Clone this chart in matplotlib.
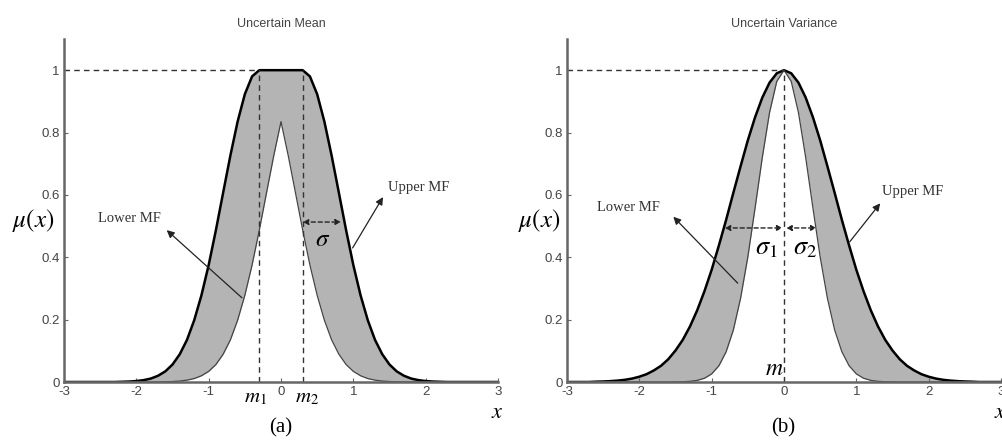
import numpy as np
from matplotlib import pyplot as plt

plt.rcParams['mathtext.fontset'] = 'stix'
plt.rcParams['font.family'] = ['Liberation Sans', 'DejaVu Sans']

# membership values, right half (x = 0 .. 3 step 0.1), curves are symmetric
x_half = np.round(np.arange(0, 3.01, 0.1), 1)

mean_upper_half = [1, 1, 1, 1, 0.980, 0.923, 0.835, 0.726, 0.607, 0.487, 0.375,
                   0.278, 0.198, 0.135, 0.089, 0.056, 0.034, 0.020, 0.011, 0.006, 0.003,
                   0.0015, 0.0007, 0, 0, 0, 0, 0, 0, 0, 0]
mean_lower_half = [0.835, 0.726, 0.607, 0.487, 0.375, 0.278, 0.198, 0.135, 0.089, 0.056, 0.034,
                   0.020, 0.011, 0.006, 0.003, 0.0015, 0.0007, 0, 0, 0, 0,
                   0, 0, 0, 0, 0, 0, 0, 0, 0, 0]
var_upper_half = [1, 0.990, 0.960, 0.912, 0.849, 0.775, 0.692, 0.607, 0.520, 0.438, 0.360,
                  0.291, 0.230, 0.178, 0.135, 0.101, 0.073, 0.052, 0.037, 0.025, 0.017,
                  0.011, 0.007, 0.0045, 0.0028, 0.0017, 0.001, 0, 0, 0, 0]
var_lower_half = [1, 0.964, 0.864, 0.720, 0.558, 0.401, 0.269, 0.167, 0.097, 0.052, 0.026,
                  0.012, 0.0052, 0.0021, 0.0008, 0.0003, 0, 0, 0, 0, 0,
                  0, 0, 0, 0, 0, 0, 0, 0, 0, 0]

m1, m2 = -0.3, 0.3
m = 0.0

x_ticks = [-3, -2, -1, 0, 1, 2, 3]
y_ticks = [0, 0.2, 0.4, 0.6, 0.8, 1]
y_ticklabels = ['0', '0.2', '0.4', '0.6', '0.8', '1']


def mirror(half):
    half = np.asarray(half, dtype=float)
    return np.concatenate([half[:0:-1], half])


x = np.concatenate([-x_half[:0:-1], x_half])

fill_col = '#b4b4b4'
dash_col = '#333333'
axis_col = '#666666'
txt_col = '#444444'


def setup_axes(ax, title):
    ax.set_xlim(-3, 3)
    ax.set_ylim(0, 1.1)
    for s in ['top', 'right']:
        ax.spines[s].set_visible(False)
    for s in ['left', 'bottom']:
        ax.spines[s].set_color(axis_col)
        ax.spines[s].set_linewidth(1.8)
    ax.set_xticks(x_ticks)
    ax.set_xticklabels([str(t) for t in x_ticks])
    ax.set_yticks(y_ticks)
    ax.set_yticklabels(y_ticklabels)
    ax.tick_params(direction='in', length=3, width=0.8, color=axis_col,
                   labelsize=9.5, labelcolor=txt_col, pad=3)
    ax.text(0.5, 1.044, title, transform=ax.transAxes, ha='center', va='center',
            fontsize=9, color=txt_col)


def mf_arrow(ax, head, tail):
    ax.annotate('', xy=head, xytext=tail,
                arrowprops=dict(arrowstyle='-|>', color='#222222', lw=0.9,
                                mutation_scale=11, shrinkA=0, shrinkB=0))


def sigma_arrow(ax, x0, x1, y):
    ax.annotate('', xy=(x1, y), xytext=(x0, y),
                arrowprops=dict(arrowstyle='<|-|>', color='#222222', lw=1.0, ls=(0, (3, 2)),
                                mutation_scale=8, shrinkA=0, shrinkB=0))


fig = plt.figure(figsize=(10.02, 4.4), dpi=100)
ax1 = fig.add_axes([64 / 1002, 58 / 440, 434 / 1002, 343 / 440])
ax2 = fig.add_axes([567 / 1002, 58 / 440, 434 / 1002, 343 / 440])

# (a) uncertain mean
up = mirror(mean_upper_half)
lo = mirror(mean_lower_half)
setup_axes(ax1, 'Uncertain Mean')
ax1.fill_between(x, lo, up, color=fill_col, lw=0)
ax1.plot(x, up, color='black', lw=1.8, solid_joinstyle='round')
ax1.plot(x, lo, color='#444444', lw=0.9)
ax1.plot([-3, m1], [1, 1], color=dash_col, lw=1, ls=(0, (4, 3)))
ax1.plot([m1, m1], [0, 1], color=dash_col, lw=1, ls=(0, (4, 3)))
ax1.plot([m2, m2], [0, 1], color=dash_col, lw=1, ls=(0, (4, 3)))
sigma_arrow(ax1, 0.3, 0.83, 0.513)
ax1.text(0.58, 0.46, r'$\sigma$', fontsize=18, ha='center', va='center')
ax1.text(1.48, 0.625, 'Upper MF', fontsize=10.5, family='Liberation Serif',
         color='#333333', ha='left', va='center')
ax1.text(-2.53, 0.525, 'Lower MF', fontsize=10.5, family='Liberation Serif',
         color='#333333', ha='left', va='center')
mf_arrow(ax1, (1.41, 0.593), (0.99, 0.43))
mf_arrow(ax1, (-1.58, 0.487), (-0.54, 0.27))
ax1.text(-0.35, -0.045, r'$m_1$', fontsize=15, ha='center', va='center',
         transform=ax1.get_xaxis_transform())
ax1.text(0.36, -0.045, r'$m_2$', fontsize=15, ha='center', va='center',
         transform=ax1.get_xaxis_transform())

# (b) uncertain variance
up = mirror(var_upper_half)
lo = mirror(var_lower_half)
setup_axes(ax2, 'Uncertain Variance')
ax2.fill_between(x, lo, up, color=fill_col, lw=0)
ax2.plot(x, up, color='black', lw=1.8, solid_joinstyle='round')
ax2.plot(x, lo, color='#444444', lw=0.9)
ax2.plot([-3, m], [1, 1], color=dash_col, lw=1, ls=(0, (4, 3)))
ax2.plot([m, m], [0, 1], color=dash_col, lw=1, ls=(0, (4, 3)))
sigma_arrow(ax2, -0.82, -0.02, 0.494)
sigma_arrow(ax2, 0.03, 0.45, 0.494)
ax2.text(-0.24, 0.43, r'$\sigma_1$', fontsize=19, ha='center', va='center')
ax2.text(0.29, 0.43, r'$\sigma_2$', fontsize=19, ha='center', va='center')
ax2.text(-0.14, 0.005, r'$m$', fontsize=17, ha='center', va='bottom')
ax2.text(1.36, 0.61, 'Upper MF', fontsize=10.5, family='Liberation Serif',
         color='#333333', ha='left', va='center')
ax2.text(-2.59, 0.56, 'Lower MF', fontsize=10.5, family='Liberation Serif',
         color='#333333', ha='left', va='center')
mf_arrow(ax2, (1.33, 0.573), (0.91, 0.45))
mf_arrow(ax2, (-1.53, 0.53), (-0.64, 0.317))

for ax in [ax1, ax2]:
    for art in ax.texts:
        art.set_clip_on(False)

# labels outside the axes
for xl in [33, 539]:
    fig.text(xl / 1002, 1 - 220 / 440, r'$\mu(x)$', fontsize=18, ha='center', va='center')
fig.text(497 / 1002, 1 - 412 / 440, r'$x$', fontsize=16, ha='center', va='center')
fig.text(1000 / 1002, 1 - 412 / 440, r'$x$', fontsize=16, ha='center', va='center')
fig.text(281 / 1002, 1 - 428 / 440, '(a)', fontsize=15, family='Liberation Serif',
         ha='center', va='center')
fig.text(783 / 1002, 1 - 428 / 440, '(b)', fontsize=15, family='Liberation Serif',
         ha='center', va='center')

plt.savefig('out.png', dpi=100)
